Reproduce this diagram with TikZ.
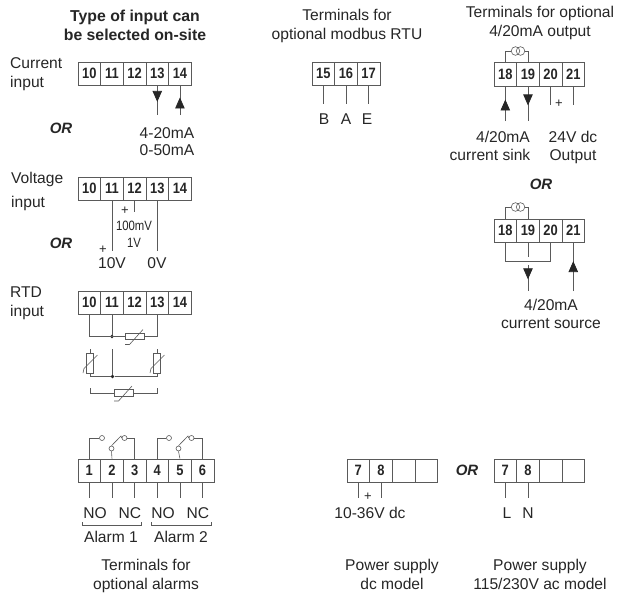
\documentclass[tikz,border=0pt]{standalone}
\usepackage{fontspec}
\setmainfont{Liberation Sans}
\usetikzlibrary{arrows.meta,decorations.markings,calc}
\definecolor{ink}{HTML}{262626}
\definecolor{wire}{HTML}{5A5A5A}
\newcommand{\termrow}[4]{%
  \foreach \lab [count=\i from 0] in {#4} {
    \node[cell] (#1\i) at ({#2+22.65*(\i+0.5)},{#3+11.7}) {\scalebox{.86}[1]{\lab}};
  }%
}
\newcommand{\hvar}[1]{\draw[wirel] ([shift={(-9.5,8)}]#1.center) -- ([shift={(-5,8)}]#1.center) -- ([shift={(8.5,-7)}]#1.center);}
\newcommand{\vvar}[1]{\draw[wirel] ([shift={(-7,10)}]#1.center) -- ([shift={(-6,5.5)}]#1.center) -- ([shift={(7.5,-8)}]#1.center);}
\tikzset{
  x=1pt,y=-1pt,
  cell/.style={draw=wire,line width=.8pt,fill=white,minimum width=22.65pt,minimum height=23.4pt,inner sep=0pt,text=ink,font=\fontsize{15}{15}\selectfont\bfseries},
  txt/.style={inner sep=0pt,text=ink,text height=10.5pt,text depth=0pt,font=\fontsize{15.6}{15.6}\selectfont},
  btitle/.style={txt,font=\fontsize{15.8}{15.8}\selectfont\bfseries},
  ortxt/.style={txt,font=\fontsize{15}{15}\selectfont\bfseries\itshape},
  wirel/.style={draw=wire,line width=.6pt},
  heavy/.style={draw=wire,line width=.8pt},
  midarrow/.style={heavy,decoration={markings,mark=at position #1 with {\arrow[ink]{Triangle[length=11pt,width=9.5pt]}}},postaction={decorate}},
  midarrow/.default=.55,
  res/.style={draw=wire,line width=.6pt,fill=white,minimum width=19pt,minimum height=6.5pt,inner sep=0pt},
  vres/.style={draw=wire,line width=.6pt,fill=white,minimum width=6.5pt,minimum height=20pt,inner sep=0pt},
  junction/.style={circle,fill=ink,minimum size=3.6pt,inner sep=0pt},
  contact/.style={circle,draw=wire,line width=.6pt,fill=white,minimum size=5pt,inner sep=0pt},
  srcring/.style={circle,draw=wire,line width=.6pt,minimum size=8.6pt,inner sep=0pt},
}
\begin{document}
\begin{tikzpicture}
\useasboundingbox (0,0) rectangle (629,595);

% ---- left column titles
\node[btitle] (t1) at (135,16) {Type of input can};
\node[btitle] (t2) at (135,35) {be selected on-site};

% ---- current input
\node[txt,anchor=west] (lcur1) at (10,63) {Current};
\node[txt,anchor=west] (lcur2) at (10,82) {input};
\termrow{cur}{78}{62}{10,11,12,13,14}
\coordinate (curA) at (cur3.south |- 0,115);
\coordinate (curB) at (cur4.south |- 0,115);
\draw[midarrow=.55] (cur3.south) -- (curA);
\draw[midarrow=.6] (curB) -- (cur4.south);
\node[ortxt] (or1) at (61,128) {OR};
\node[txt] (cur4t) at (167,133) {4-20mA};
\node[txt] (cur5t) at (167,150) {0-50mA};

% ---- voltage input
\node[txt,anchor=west] (lv1) at (11,178) {Voltage};
\node[txt,anchor=west] (lv2) at (11,202) {input};
\termrow{vol}{78}{177}{10,11,12,13,14}
\coordinate (volA) at (vol1.south |- 0,251);
\coordinate (volB) at (vol2.south |- 0,212);
\coordinate (volC) at (vol3.south |- 0,251);
\draw[wirel] (vol1.south) -- (volA);
\draw[wirel] (vol2.south) -- (volB);
\draw[wirel] (vol3.south) -- (volC);
\node[txt,font=\fontsize{13}{13}\selectfont] (vplus1) at (125,209) {+};
\node[txt,font=\fontsize{13.5}{13.5}\selectfont] (v100) at (134,225) {\scalebox{.84}[1]{100mV}};
\node[txt,font=\fontsize{13.5}{13.5}\selectfont] (v1) at (134,242) {\scalebox{.84}[1]{1V}};
\node[txt,font=\fontsize{13}{13}\selectfont] (vplus2) at (103,248) {+};
\node[ortxt] (or2) at (61,243) {OR};
\node[txt] (v10) at (112,263) {10V};
\node[txt] (v0) at (157,263) {0V};

% ---- RTD input
\node[txt,anchor=west] (lr1) at (10,292) {RTD};
\node[txt,anchor=west] (lr2) at (10,311) {input};
\termrow{rtd}{78}{291}{10,11,12,13,14}
\node[res] (r1) at (134.5,336.5) {};
\node[junction] (j1) at (rtd1.south |- r1) {};
\draw[wirel] (rtd0.south) |- (r1.west);
\draw[wirel] (rtd1.south) -- (j1);
\draw[wirel] (rtd3.south) |- (r1.east);
\hvar{r1}
\node[vres] (r2) at (90,363) {};
\node[vres] (r3) at (157,363) {};
\coordinate (r2top) at (90,349);
\coordinate (r3top) at (157,349);
\coordinate (midtop) at (112.5,349);
\node[junction] (j2) at (112.5,376.5) {};
\draw[wirel] (r2top) -- (r2.north);
\draw[wirel] (r3top) -- (r3.north);
\draw[wirel] (r2.south) |- (j2);
\draw[wirel] (r3.south) |- (j2);
\draw[wirel] (midtop) -- (j2);
\vvar{r2}
\vvar{r3}
\node[res] (r4) at (123.5,393) {};
\coordinate (r4a) at (90,388);
\coordinate (r4b) at (157,388);
\draw[wirel] (r4a) |- (r4.west);
\draw[wirel] (r4b) |- (r4.east);
\hvar{r4}

% ---- alarms
\termrow{al}{78}{459}{1,2,3,4,5,6}
\node[contact] (c1) at (102,438) {};
\node[contact] (c2) at (111.5,448.5) {};
\node[contact] (c3) at (124.5,438) {};
\draw[wirel] (al0.north) |- (c1.west);
\draw[wirel] (al1.north) -- (c2.south);
\draw[wirel] (c2.north) -- (121,436) -- (c3.west);
\draw[wirel] (c3.east) -| (al2.north);
\node[contact] (c4) at (169,438) {};
\node[contact] (c5) at (178.5,448.5) {};
\node[contact] (c6) at (191.5,438) {};
\draw[wirel] (al3.north) |- (c4.west);
\draw[wirel] (al4.north) -- (c5.south);
\draw[wirel] (c5.north) -- (188,436) -- (c6.west);
\draw[wirel] (c6.east) -| (al5.north);
\foreach \k in {0,...,5} {
  \coordinate (alb\k) at (al\k.south |- 0,498);
  \draw[wirel] (al\k.south) -- (alb\k);
}
\node[txt] (no1) at (95,513) {NO};
\node[txt] (nc1) at (130,513) {NC};
\node[txt] (no2) at (163,513) {NO};
\node[txt] (nc2) at (198,513) {NC};
\coordinate (b1a) at (82,522);
\coordinate (b1b) at (141,522);
\coordinate (b2a) at (151,522);
\coordinate (b2b) at (211,522);
\draw[wirel] (b1a) -- ++(0,3) -| (b1b);
\draw[wirel] (b2a) -- ++(0,3) -| (b2b);
\node[txt] (a1) at (111,537) {Alarm 1};
\node[txt] (a2) at (181,537) {Alarm 2};
\node[txt] (ta1) at (146,565) {Terminals for};
\node[txt] (ta2) at (146,584) {optional alarms};

% ---- modbus
\node[txt] (tm1) at (347,15) {Terminals for};
\node[txt] (tm2) at (347,34) {optional modbus RTU};
\termrow{mod}{312}{62}{15,16,17}
\foreach \k in {0,1,2} {
  \coordinate (modb\k) at (mod\k.south |- 0,104);
  \draw[wirel] (mod\k.south) -- (modb\k);
}
\node[txt] (mb) at (324,119) {B};
\node[txt] (ma) at (346,119) {A};
\node[txt] (me) at (367,119) {E};

% ---- 4/20 mA output
\node[txt] (to1) at (540,12) {Terminals for optional};
\node[txt] (to2) at (540,31) {4/20mA output};
\termrow{out}{494}{62.5}{18,19,20,21}
\node[srcring] (s1) at (515.5,51) {};
\node[srcring] (s2) at (520.5,51) {};
\draw[wirel] (out0.north) |- (s1.west);
\draw[wirel] (out1.north) |- (s2.east);
\coordinate (outA) at (out0.south |- 0,121);
\coordinate (outB) at (out1.south |- 0,121);
\coordinate (outC) at (out2.south |- 0,105);
\coordinate (outD) at (out3.south |- 0,105);
\draw[midarrow=.62] (outA) -- (out0.south);
\draw[midarrow=.55] (out1.south) -- (outB);
\draw[wirel] (out2.south) -- (outC);
\draw[wirel] (out3.south) -- (outD);
\node[txt,font=\fontsize{13}{13}\selectfont] (oplus) at (559,102) {+};
\node[txt] (ol1) at (503,137) {4/20mA};
\node[txt] (ol2) at (490,155) {current sink};
\node[txt] (ol3) at (573,137) {24V dc};
\node[txt] (ol4) at (573,155) {Output};

\node[ortxt] (or3) at (541,184) {OR};

% ---- current source
\termrow{src}{494}{219}{18,19,20,21}
\node[srcring] (s3) at (515.5,207) {};
\node[srcring] (s4) at (520.5,207) {};
\draw[wirel] (src0.north) |- (s3.west);
\draw[wirel] (src1.north) |- (s4.east);
\coordinate (srcM) at (src1.south |- 0,257);
\coordinate (srcL) at (src0.south |- 0,261);
\coordinate (srcR) at (src2.south |- 0,261);
\draw[wirel] (src0.south) -- (srcL) -- (srcR) -- (src2.south);
\draw[wirel] (src1.south) -- (srcM);
\coordinate (srcDa) at (src1.south |- 0,265);
\coordinate (srcDb) at (src1.south |- 0,291);
\coordinate (srcU) at (src3.south |- 0,291);
\draw[midarrow=.55] (srcDa) -- (srcDb);
\draw[midarrow=.62] (srcU) -- (src3.south);
\node[txt] (sl1) at (551,305) {4/20mA};
\node[txt] (sl2) at (551,323) {current source};

% ---- power supply, dc model
\termrow{pd}{347}{459}{7,8,{},{}}
\coordinate (pdA) at (pd0.south |- 0,498);
\coordinate (pdB) at (pd1.south |- 0,498);
\draw[wirel] (pd0.south) -- (pdA);
\draw[wirel] (pd1.south) -- (pdB);
\node[txt,font=\fontsize{13}{13}\selectfont] (pdplus) at (368,495) {+};
\node[txt] (pdt) at (370,513) {10-36V dc};
\node[txt] (pdt1) at (392,565) {Power supply};
\node[txt] (pdt2) at (392,584) {dc model};

\node[ortxt] (or4) at (467,470) {OR};

% ---- power supply, ac model
\termrow{pa}{494}{459}{7,8,{},{}}
\coordinate (paA) at (pa0.south |- 0,498);
\coordinate (paB) at (pa1.south |- 0,498);
\draw[wirel] (pa0.south) -- (paA);
\draw[wirel] (pa1.south) -- (paB);
\node[txt] (pal) at (507,513) {L};
\node[txt] (pan) at (528,513) {N};
\node[txt] (pat1) at (540,565) {Power supply};
\node[txt] (pat2) at (540,584) {115/230V ac model};
\end{tikzpicture}
\end{document}
